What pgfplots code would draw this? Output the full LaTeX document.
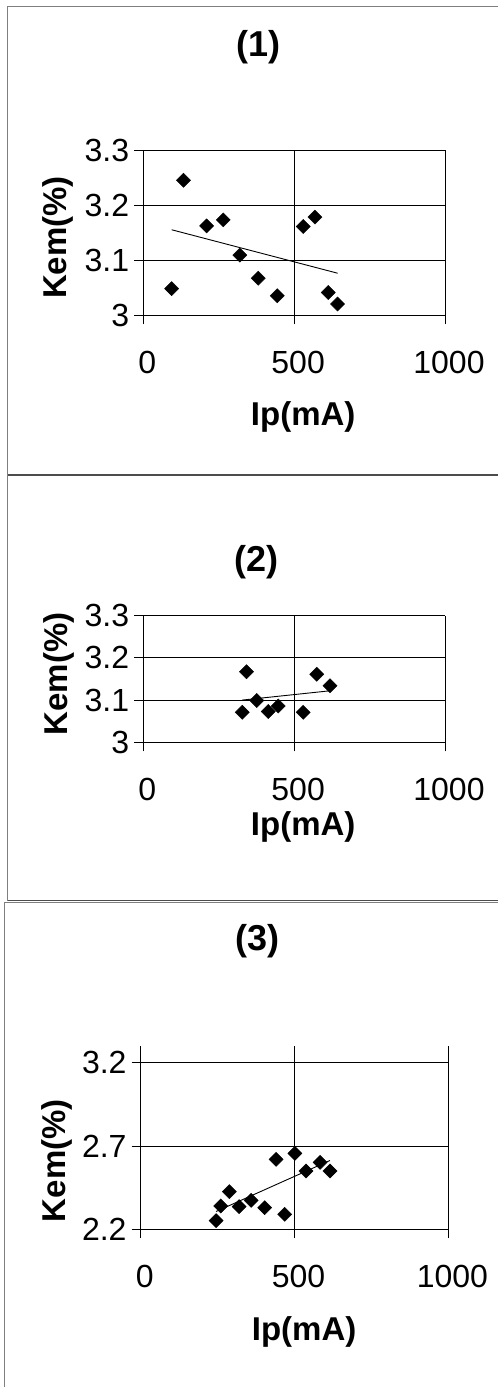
\documentclass[border=0pt]{standalone}
\usepackage{fontspec}
\setmainfont{Liberation Sans}
\usepackage{pgfplots}
\pgfplotsset{compat=1.18}
\definecolor{framegray}{HTML}{7F7F7F}
\pgfplotsset{
  kem/.style={
    scale only axis,
    axis lines*=left,
    xmin=0, xmax=1000,
    xtick={0,500,1000},
    grid=major,
    grid style={black, line width=0.9pt},
    axis line style={black, line width=0.9pt},
    tick style={black, line width=0.9pt},
    tick align=outside,
    major tick length=9pt,
    scaled ticks=false,
    /pgf/number format/1000 sep={},
    /pgf/number format/assume math mode=true,
    tick label style={font=\fontsize{32}{32}\selectfont, inner sep=0pt},
    yticklabel style={anchor=east, xshift=-5pt},
    xticklabel style={anchor=north, yshift=-27pt, xshift=4pt},
    label style={font=\bfseries\fontsize{33}{33}\selectfont},
    title style={font=\bfseries\fontsize{36}{36}\selectfont, anchor=center},
    xlabel={Ip(mA)},
    ylabel={Kem(\%)},
    clip=false,
  },
  pts/.style={only marks, mark=square*, mark size=5pt,
    mark options={rotate=45, fill=black, draw=black}},
  trend/.style={black, line width=0.9pt, no marks},
}
\begin{document}
\begin{tikzpicture}
\useasboundingbox (0pt,0pt) rectangle (498pt,-1387pt);
% panel frames
\draw[framegray, line width=1.6pt] (7.5pt,-475pt) -- (7.5pt,-6.5pt) -- (520pt,-6.5pt);
\draw[framegray!60!black, line width=1.6pt] (7.5pt,-475pt) -- (520pt,-475pt);
\draw[framegray, line width=1.6pt] (7.5pt,-475pt) -- (7.5pt,-900.5pt);
\draw[framegray!60!black, line width=1.4pt] (7.5pt,-900.5pt) -- (520pt,-900.5pt);
\draw[framegray, line width=1.4pt] (520pt,-902.5pt) -- (4.7pt,-902.5pt) -- (4.7pt,-1400pt);

% ---------------- Panel (1)
\begin{axis}[kem,
  at={(143.3pt,-315pt)}, anchor=south west,
  width=301.7pt, height=165pt,
  ymin=3, ymax=3.3, ytick={3,3.1,3.2,3.3},
  title={(1)},
  title style={at={(axis description cs:0.381,1.586)}},
  xlabel style={at={(axis description cs:0.53,-0.616)}, anchor=center},
  ylabel style={at={(axis description cs:-0.282,0.47)}, anchor=center},
]
\addplot[pts] coordinates {
(94,3.048) (133,3.245) (210,3.162) (265,3.173) (320,3.109) (381,3.067)
(444,3.035) (530,3.161) (569,3.178) (613,3.041) (644,3.020)};
\addplot[trend] coordinates {(94,3.155) (644,3.076)};
\end{axis}

% ---------------- Panel (2)
\begin{axis}[kem,
  at={(143.3pt,-742.3pt)}, anchor=south west,
  width=301.7pt, height=126.7pt,
  ymin=3, ymax=3.3, ytick={3,3.1,3.2,3.3},
  title={(2)},
  title style={at={(axis description cs:0.376,1.373)}},
  xlabel style={at={(axis description cs:0.53,-0.666)}, anchor=center},
  ylabel style={at={(axis description cs:-0.28,0.54)}, anchor=center},
]
\addplot[pts] coordinates {
(328,3.071) (342,3.167) (376,3.099) (414,3.073) (447,3.086) (530,3.071)
(575,3.161) (619,3.134)};
\addplot[trend] coordinates {(328,3.100) (619,3.122)};
\end{axis}

% ---------------- Panel (3)
\begin{axis}[kem,
  at={(140.7pt,-1229.3pt)}, anchor=south west,
  width=307.7pt, height=183.3pt,
  ymin=2.2, ymax=3.3, ytick={2.2,2.7,3.2},
  title={(3)},
  title style={at={(axis description cs:0.38,1.537)}},
  xlabel style={at={(axis description cs:0.531,-0.559)}, anchor=center},
  ylabel style={at={(axis description cs:-0.272,0.375)}, anchor=center},
]
\addplot[pts] coordinates {
(245,2.252) (260,2.340) (288,2.426) (320,2.336) (359,2.374) (403,2.330)
(440,2.620) (468,2.290) (501,2.656) (537,2.550) (583,2.602) (615,2.550)};
\addplot[trend] coordinates {(245,2.307) (615,2.613)};
\end{axis}
\end{tikzpicture}
\end{document}
